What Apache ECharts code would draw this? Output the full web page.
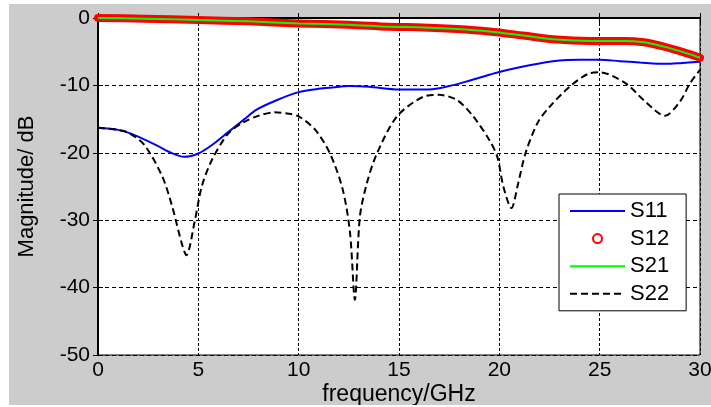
<!DOCTYPE html>
<html>
<head>
<meta charset="utf-8">
<script src="https://cdn.jsdelivr.net/npm/echarts@6/dist/echarts.min.js"></script>
<style>
html,body{margin:0;padding:0;background:#fff;width:711px;height:407px;overflow:hidden;}
#chart{position:absolute;left:9px;top:4px;width:702px;height:401px;}
</style>
</head>
<body>
<div id="chart"></div>
<script>
// ---- data ----
var seriesNames = ['S11', 'S12', 'S21', 'S22'];
var xTicks = [0, 5, 10, 15, 20, 25, 30];
var yTicks = [-50, -40, -30, -20, -10, 0];

var freqS11 = [0, 1, 1.5, 2, 3, 3.5, 4.3, 5, 5.7, 6.5, 7.3, 7.9, 8.9, 10, 11, 11.7, 12.5, 13.5, 15, 16.5, 17.5, 18.5, 19.3, 20, 21.5, 23, 24, 25, 26, 27, 28.3, 29, 30];
var valS11  = [-16.3, -16.6, -17.0, -17.6, -19.0, -19.8, -20.6, -20.1, -18.8, -16.9, -15.0, -13.6, -12.2, -11.0, -10.5, -10.3, -10.1, -10.2, -10.6, -10.6, -10.1, -9.3, -8.6, -8.0, -7.0, -6.3, -6.2, -6.2, -6.4, -6.6, -6.8, -6.7, -6.5];

var freqS12 = [0, 2.3, 5, 7.5, 10, 12.5, 14.5, 16.2, 17.9, 19.5, 21.2, 22.85, 24.5, 26.2, 27.2, 28.2, 29.2, 30];
var valS12  = [0, -0.1, -0.3, -0.5, -0.8, -1.0, -1.3, -1.4, -1.63, -2.0, -2.6, -3.2, -3.4, -3.4, -3.6, -4.25, -5.1, -5.9];

var freqS21 = [0, 2.3, 5, 7.5, 10, 12.5, 14.5, 16.2, 17.9, 19.5, 21.2, 22.85, 24.5, 26.2, 27.2, 28.2, 29.2, 30];
var valS21  = [0, -0.1, -0.3, -0.5, -0.8, -1.0, -1.3, -1.4, -1.63, -2.0, -2.6, -3.2, -3.4, -3.4, -3.6, -4.25, -5.1, -5.9];

var freqS22 = [0, 1, 1.5, 2.3, 3.2, 3.7, 4.17, 4.4, 4.83, 5.17, 5.67, 6.5, 7.3, 8.0, 8.8, 9.5, 10, 10.8, 11.56, 12.2, 12.56, 12.8, 13.05, 13.4, 13.9, 14.9, 16.2, 17.0, 17.9, 18.7, 19.5, 19.9, 20.2, 20.6, 20.94, 21.3, 21.9, 22.5, 23.5, 24.5, 25, 26.3, 27.2, 28.25, 29.0, 29.5, 30];
var valS22  = [-16.3, -16.6, -17.0, -18.8, -23.5, -28.0, -33.4, -35.2, -30.0, -25.0, -21.1, -17.1, -15.4, -14.5, -14.0, -14.2, -14.6, -16.5, -20.1, -25.5, -31.9, -41.8, -29.5, -24.5, -20.1, -14.6, -11.7, -11.4, -12.2, -14.6, -18.1, -20.6, -25.0, -28.2, -24.5, -20.1, -15.6, -13.2, -10.2, -8.2, -8.06, -9.7, -12.2, -14.5, -12.4, -9.7, -7.7];

var xName = 'frequency/GHz';
var yName = 'Magnitude/ dB';

function pairs(xs, ys) { return xs.map(function (x, i) { return [x, ys[i]]; }); }

var FONT = '"Liberation Sans", Arial, sans-serif';
var chart = echarts.init(document.getElementById('chart'), null, {renderer: 'canvas'});

var xMin = xTicks[0], xMax = xTicks[xTicks.length - 1], xInt = xTicks[1] - xTicks[0];
var yMin = yTicks[0], yMax = yTicks[yTicks.length - 1], yInt = yTicks[1] - yTicks[0];

var option = {
  animation: false,
  backgroundColor: '#cccccc',
  textStyle: {fontFamily: FONT},
  grid: {left: 89, top: 14, right: 11, bottom: 50, containLabel: false, outerBoundsMode: 'none',
         show: true, backgroundColor: '#ffffff', borderColor: '#000', borderWidth: 1},
  xAxis: [{
    type: 'value', min: xMin, max: xMax, interval: xInt,
    name: xName, nameLocation: 'middle', nameGap: 28, nameMoveOverlap: false,
    nameTextStyle: {color: '#000', fontSize: 23, fontFamily: FONT},
    axisLine: {show: true, lineStyle: {color: '#000', width: 2}},
    axisTick: {show: true, inside: true, length: 5, lineStyle: {color: '#000'}},
    axisLabel: {color: '#000', fontSize: 21, fontFamily: FONT, margin: 5},
    splitLine: {show: true, lineStyle: {color: '#000', type: [3, 2], width: 1}}
  }, {
    type: 'value', min: xMin, max: xMax, interval: xInt, position: 'top',
    axisLine: {show: false}, axisLabel: {show: false}, splitLine: {show: false},
    axisTick: {show: true, inside: true, length: 5, lineStyle: {color: '#000'}}
  }],
  yAxis: [{
    type: 'value', min: yMin, max: yMax, interval: yInt,
    name: yName, nameLocation: 'middle', nameGap: 60, nameMoveOverlap: false,
    nameTextStyle: {color: '#000', fontSize: 22, fontFamily: FONT},
    axisLine: {show: true, lineStyle: {color: '#000', width: 2}},
    axisTick: {show: true, inside: true, length: 5, lineStyle: {color: '#000'}},
    axisLabel: {color: '#000', fontSize: 21, fontFamily: FONT, margin: 8},
    splitLine: {show: true, lineStyle: {color: '#000', type: [4, 3], width: 1}}
  }, {
    type: 'value', min: yMin, max: yMax, interval: yInt, position: 'right',
    axisLine: {show: false}, axisLabel: {show: false}, splitLine: {show: false},
    axisTick: {show: true, inside: true, length: 5, lineStyle: {color: '#000'}}
  }],
  legend: {
    orient: 'vertical', left: 550, top: 190,
    padding: [6, 17, 6, 10],
    backgroundColor: '#ffffff', borderColor: '#000', borderWidth: 1, borderRadius: 0,
    itemWidth: 55, itemHeight: 9, itemGap: 5.6, itemTextGap: 8,
    textStyle: {color: '#000', fontSize: 22, lineHeight: 20, fontFamily: FONT},
    data: [
      {name: seriesNames[0], itemStyle: {opacity: 0}},
      {name: seriesNames[1], icon: 'emptyCircle'},
      {name: seriesNames[2], itemStyle: {opacity: 0}},
      {name: seriesNames[3], itemStyle: {opacity: 0}}
    ]
  },
  series: [
    {name: seriesNames[0], type: 'line', data: pairs(freqS11, valS11), smooth: 0.3, symbol: 'none',
     color: '#0000ff', lineStyle: {color: '#0000ff', width: 2}, z: 2},
    {name: seriesNames[1], type: 'line', data: pairs(freqS12, valS12), smooth: 0.3, symbol: 'none',
     color: '#ff0000', lineStyle: {color: '#ff0000', width: 8, cap: 'round', join: 'round'}, z: 3},
    {name: seriesNames[2], type: 'line', data: pairs(freqS21, valS21), smooth: 0.3, symbol: 'none',
     color: '#00ff00', lineStyle: {color: '#00ff00', width: 2}, z: 4},
    {name: seriesNames[3], type: 'line', data: pairs(freqS22, valS22), smooth: 0.3, symbol: 'none',
     color: '#000000', lineStyle: {color: '#000000', width: 2, type: [7, 4]}, z: 5}
  ]
};
chart.setOption(option);
</script>
</body>
</html>
